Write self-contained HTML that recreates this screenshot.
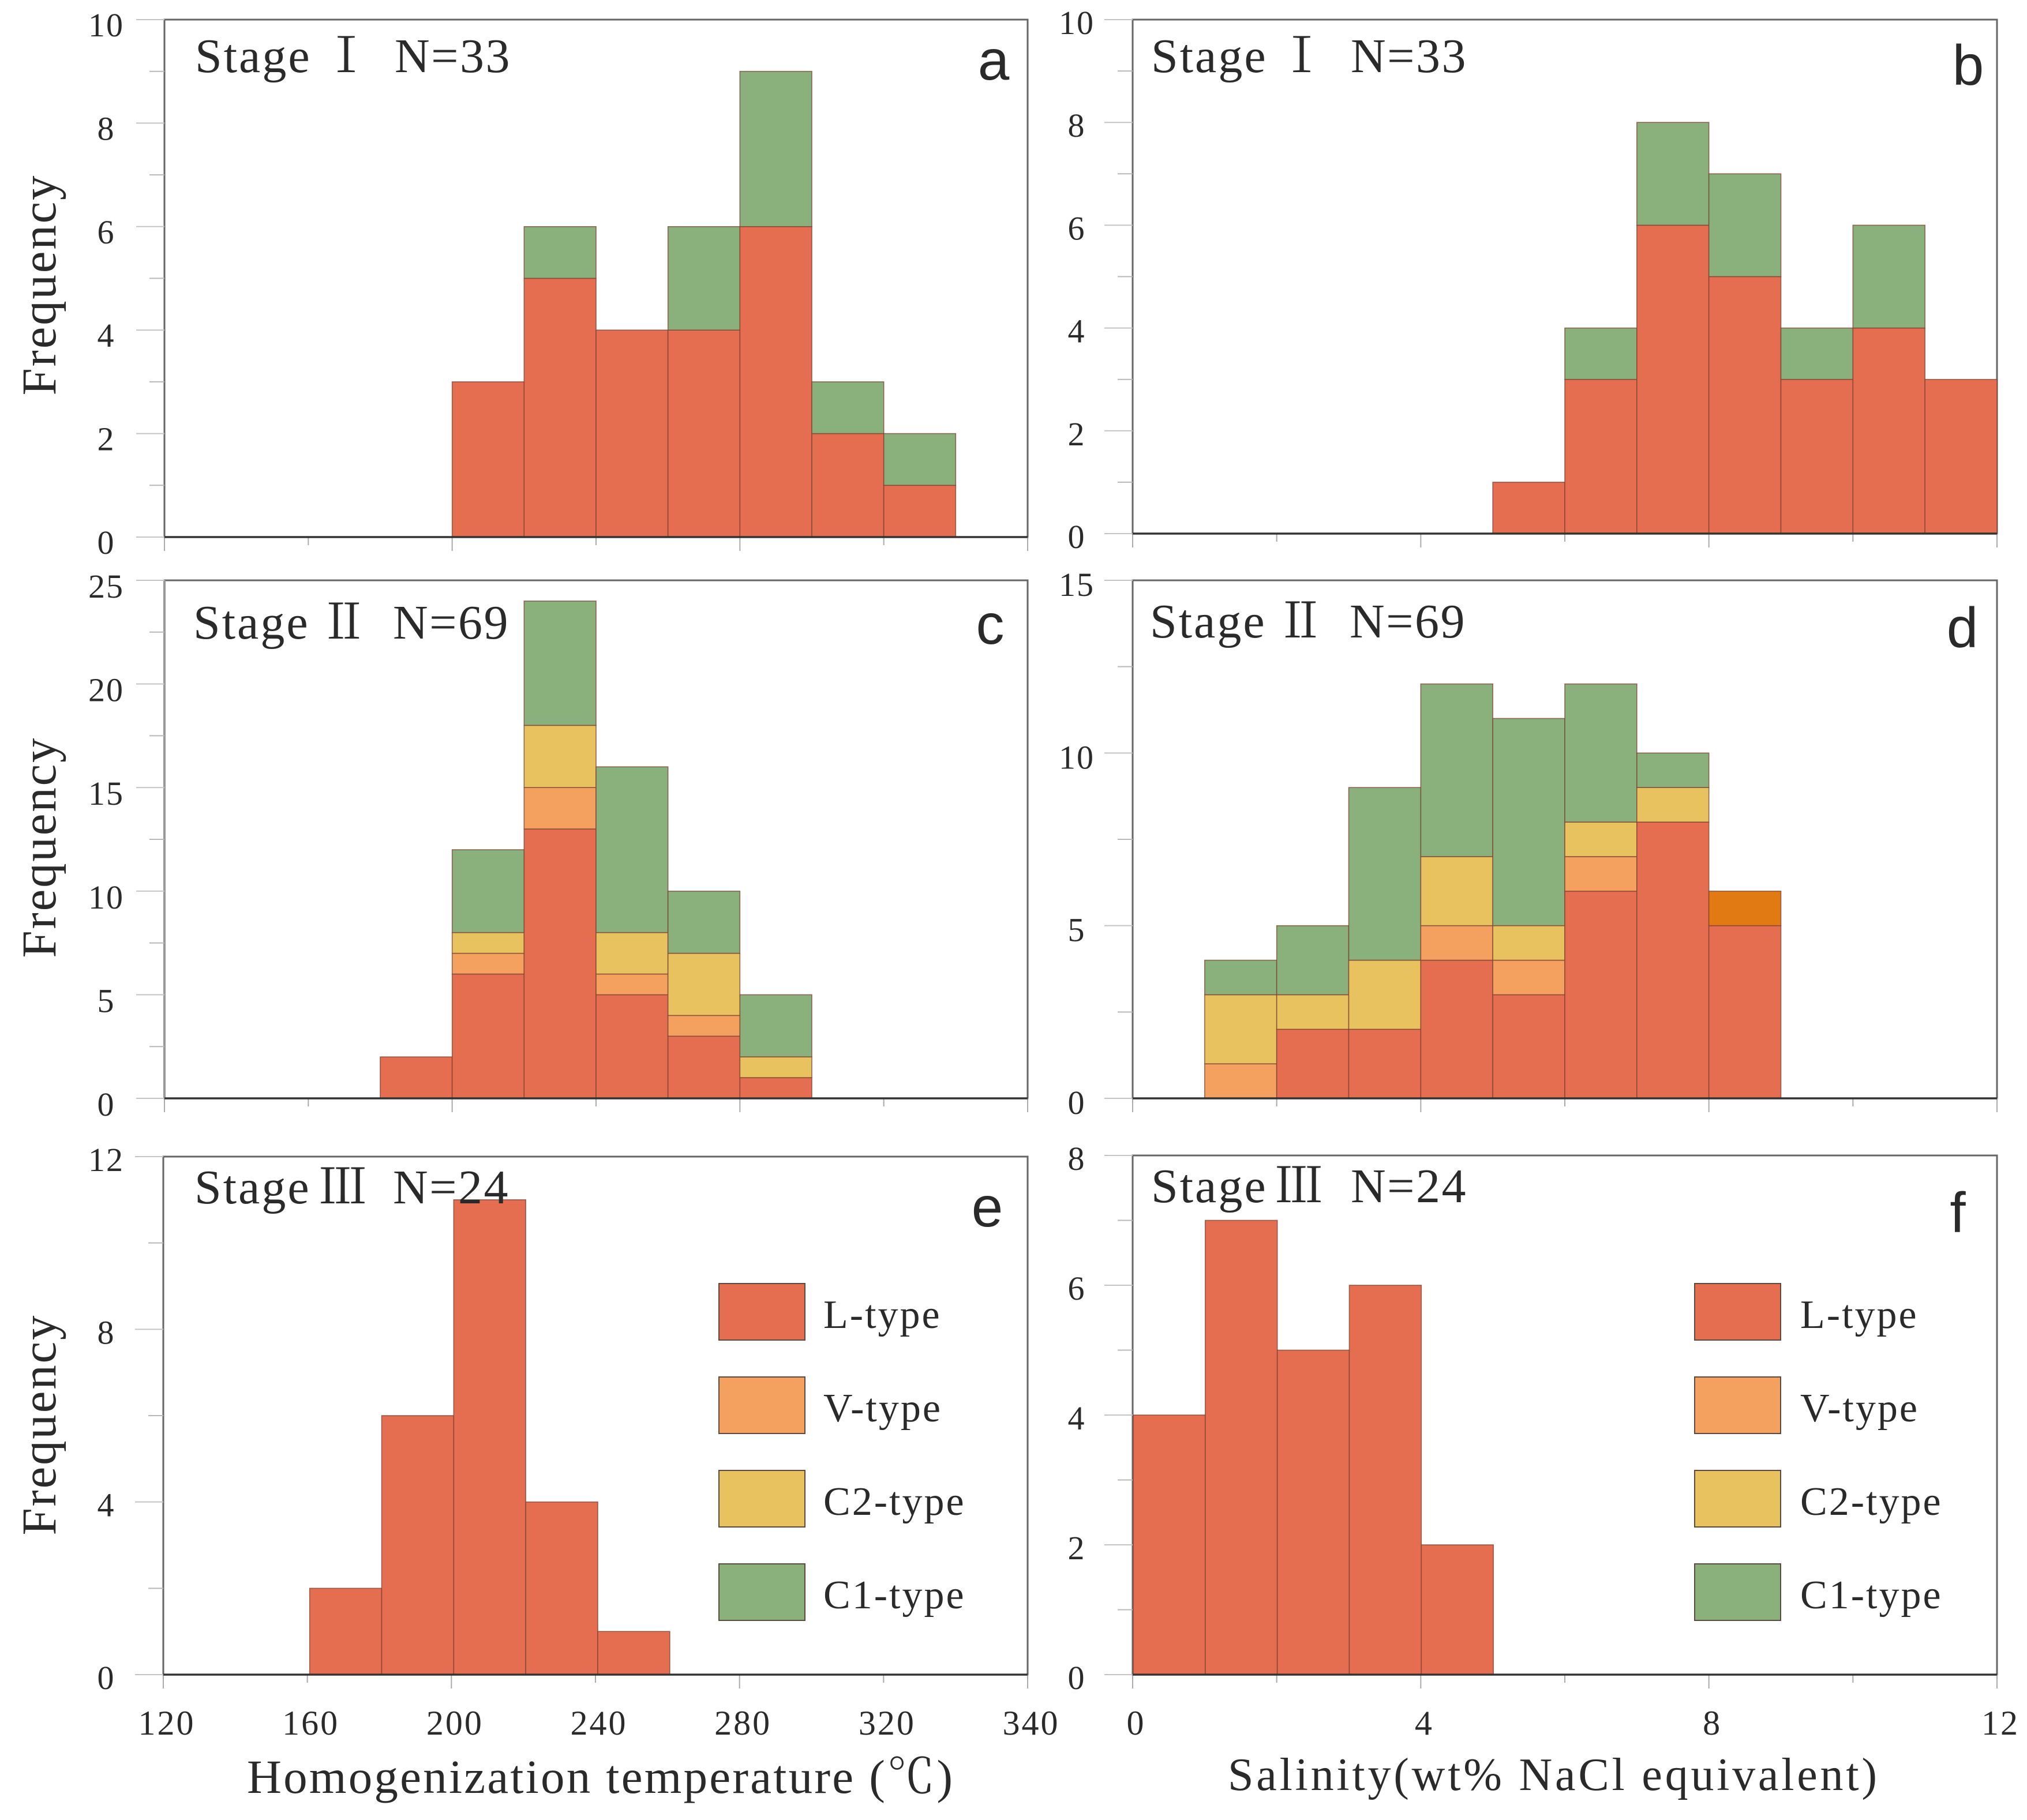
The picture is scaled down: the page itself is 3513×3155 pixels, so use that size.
<!DOCTYPE html>
<html lang="en">
<head>
<meta charset="utf-8">
<title>Fluid inclusion histograms</title>
<style>
html,body{margin:0;padding:0;background:#fff;}
svg{display:block;}
text{font-family:"Liberation Serif","Noto Serif CJK SC",serif;fill:#2a2a2a;}
</style>
</head>
<body>
<svg id="chart" xmlns="http://www.w3.org/2000/svg" width="3513" height="3155" viewBox="0 0 3513 3155"></svg>
<script>
// ---- data ----
const tempTickValues = [120,160,200,240,280,320,360];
const tempTickLabels = ['120','160','200','240','280','320','340'];
const salTickValues = [0,2,4,6,8,10,12];
const salTickLabels = ['0','','4','','8','','12'];

const aBins = [200,220,240,260,280,300,320];
const aL  = [3,5,4,4,6,2,1];
const aC1 = [0,1,0,2,3,1,1];

const bBins = [5,6,7,8,9,10,11];
const bL  = [1,3,6,5,3,4,3];
const bC1 = [0,1,2,2,1,2,0];

const cBins = [180,200,220,240,260,280];
const cL  = [2,6,13,5,3,1];
const cV  = [0,1,2,1,1,0];
const cC2 = [0,1,3,2,3,1];
const cC1 = [0,4,6,8,3,3];

const dBins = [1,2,3,4,5,6,7,8];
const dL  = [0,2,2,4,3,6,8,5];
const dV  = [1,0,0,1,1,1,0,0];
const dVDark = [0,0,0,0,0,0,0,1];
const dC2 = [2,1,2,2,1,1,1,0];
const dC1 = [1,2,5,5,6,4,1,0];

const eBins = [160,180,200,220,240];
const eL  = [2,6,11,4,1];

const fBins = [0,1,2,3,4];
const fL  = [4,7,5,6,2];

const legendLabels = ['L-type','V-type','C2-type','C1-type'];

// ---- styles ----
const COLORS = {L:'#e66e50', V:'#f4a05f', VDark:'#e27a14', C2:'#e8c25f', C1:'#8ab07c'};
const legendColors = [COLORS.L, COLORS.V, COLORS.C2, COLORS.C1];
const svg = document.getElementById('chart');

function mk(tag, attrs, parent){
  const el = document.createElementNS('http://www.w3.org/2000/svg', tag);
  for (const k in attrs) el.setAttribute(k, attrs[k]);
  (parent || svg).appendChild(el);
  return el;
}
function txt(str, attrs, name, parent){
  const el = mk('text', attrs, parent);
  el.textContent = str;
  
  
  return el;
}

function drawPanel(p){
  const g = mk('g', {});
  
  
  const xs = v => p.left + (v - p.xMin) / (p.xMax - p.xMin) * (p.right - p.left);
  const ys = v => p.bottom - v / p.yMax * (p.bottom - p.top);

  // frame
  const frame = mk('rect', {x:p.left, y:p.top, width:p.right-p.left, height:p.bottom-p.top, fill:'#fff', stroke:'#666', 'stroke-width':3}, g);
  
  
  if (p.softLeft){
    const sl = mk('line', {x1:p.left, x2:p.left, y1:p.top, y2:p.bottom, stroke:'#999', 'stroke-width':4}, g);
    
    
  }

  // y ticks
  for (let v = 0; v <= p.yMax; v += p.yMinor){
    const isMajor = v % p.yMajor === 0;
    const t = mk('line', {x1:p.left - (isMajor ? 49 : 26), x2:p.left, y1:ys(v), y2:ys(v), stroke: isMajor ? '#c4c4c4' : '#b8b8b8', 'stroke-width':2}, g);
    
    
    if (isMajor){
      txt(String(v), {x:p.yLabelX, y:ys(v)+p.labelDy, 'font-size':58, 'text-anchor':'middle', 'letter-spacing':2}, 'y-tick-label-' + p.id, g);
    }
  }
  // x ticks
  p.tickValues.forEach((v,i) => {
    const t = mk('line', {x1:xs(v), x2:xs(v), y1:p.bottom, y2:p.bottom + (i % 2 ? 14 : 24), stroke:'#aaa', 'stroke-width':2}, g);
    
    
    if (p.showX && p.tickLabels[i]){
      txt(p.tickLabels[i], {x:xs(v)+6, y:3007, 'font-size':60, 'text-anchor':'middle', 'letter-spacing':3}, 'x-tick-label-' + p.id, g);
    }
  });

  // stacked bars
  p.bins.forEach((b,i) => {
    let base = 0;
    p.series.forEach(s => {
      const val = s.values[i];
      if (!val) return;
      const r = mk('rect', {x:xs(b)+p.barShift, y:ys(base+val), width:xs(b+p.binWidth)-xs(b), height:ys(base)-ys(base+val), fill:s.color, stroke:'#7a4030', 'stroke-width':1.6, 'stroke-opacity':0.75}, g);
      
      
      base += val;
    });
  });

  // baseline
  const bl = mk('line', {x1:p.left, x2:p.right, y1:p.bottom, y2:p.bottom, stroke:'#333', 'stroke-width':3.5}, g);
  
  

  // annotations
  txt('Stage', {x:p.stageX, y:p.stageY, 'font-size':84, 'letter-spacing':3}, 'stage-label-' + p.id, g);
  txt(p.roman, {x:p.romanX, y:p.stageY, 'font-size':84, 'text-anchor':'middle'}, 'stage-numeral-' + p.id, g);
  txt('N=' + p.n, {x:p.nX, y:p.stageY, 'font-size':84, 'letter-spacing':2.5}, 'sample-count-' + p.id, g);
  const letter = txt(p.id, {x:p.letterX, y:p.letterY, 'font-size':98, 'text-anchor':'middle'}, 'panel-letter-' + p.id, g);
  letter.setAttribute('style', 'font-family:"Liberation Sans",sans-serif;');
}

const panels = [
 {id:'a', left:285, right:1781, top:34, bottom:931, xMin:120, xMax:360, yMax:10, yMajor:2, yMinor:1, yLabelX:184, labelDy:29, barShift:0, softLeft:false,
  bins:aBins, binWidth:20, tickValues:tempTickValues, tickLabels:tempTickLabels, showX:false,
  series:[{name:'l',values:aL,color:COLORS.L},{name:'c1',values:aC1,color:COLORS.C1}],
  roman:'Ⅰ', n:33, stageX:338, stageY:125, romanX:600, nX:684, letterX:1722, letterY:138},
 {id:'b', left:1963, right:3461, top:34, bottom:925, xMin:0, xMax:12, yMax:10, yMajor:2, yMinor:1, yLabelX:1866, labelDy:25, barShift:0, softLeft:false,
  bins:bBins, binWidth:1, tickValues:salTickValues, tickLabels:salTickLabels, showX:false,
  series:[{name:'l',values:bL,color:COLORS.L},{name:'c1',values:bC1,color:COLORS.C1}],
  roman:'Ⅰ', n:33, stageX:1995, stageY:125, romanX:2256, nX:2341, letterX:3411, letterY:147},
 {id:'c', left:285, right:1781, top:1006, bottom:1904, xMin:120, xMax:360, yMax:25, yMajor:5, yMinor:2.5, yLabelX:184, labelDy:30, barShift:0, softLeft:true,
  bins:cBins, binWidth:20, tickValues:tempTickValues, tickLabels:tempTickLabels, showX:false,
  series:[{name:'l',values:cL,color:COLORS.L},{name:'v',values:cV,color:COLORS.V},{name:'c2',values:cC2,color:COLORS.C2},{name:'c1',values:cC1,color:COLORS.C1}],
  roman:'Ⅱ', n:69, stageX:335, stageY:1107, romanX:596, nX:681, letterX:1716, letterY:1116},
 {id:'d', left:1963, right:3461, top:1006, bottom:1904, xMin:0, xMax:12, yMax:15, yMajor:5, yMinor:2.5, yLabelX:1866, labelDy:27, barShift:0, softLeft:false,
  bins:dBins, binWidth:1, tickValues:salTickValues, tickLabels:salTickLabels, showX:false,
  series:[{name:'l',values:dL,color:COLORS.L},{name:'v',values:dV,color:COLORS.V},{name:'v-dark',values:dVDark,color:COLORS.VDark},{name:'c2',values:dC2,color:COLORS.C2},{name:'c1',values:dC1,color:COLORS.C1}],
  roman:'Ⅱ', n:69, stageX:1993, stageY:1105, romanX:2254, nX:2339, letterX:3401, letterY:1122},
 {id:'e', left:283, right:1781, top:2005, bottom:2903, xMin:120, xMax:360, yMax:12, yMajor:4, yMinor:2, yLabelX:184, labelDy:25, barShift:4, softLeft:false,
  bins:eBins, binWidth:20, tickValues:tempTickValues, tickLabels:tempTickLabels, showX:true,
  series:[{name:'l',values:eL,color:COLORS.L}],
  roman:'Ⅲ', n:24, stageX:337, stageY:2086, romanX:594, nX:681, letterX:1711, letterY:2126},
 {id:'f', left:1963, right:3461, top:2003, bottom:2903, xMin:0, xMax:12, yMax:8, yMajor:2, yMinor:1, yLabelX:1866, labelDy:25, barShift:1, softLeft:false,
  bins:fBins, binWidth:1, tickValues:salTickValues, tickLabels:salTickLabels, showX:true,
  series:[{name:'l',values:fL,color:COLORS.L}],
  roman:'Ⅲ', n:24, stageX:1995, stageY:2084, romanX:2251, nX:2341, letterX:3393, letterY:2136}
];
panels.forEach(drawPanel);

// y axis titles
[495,1470,2471].forEach((cy,i) => {
  const t = txt('Frequency', {x:0, y:0, transform:'translate(96,'+cy+') rotate(-90)', 'font-size':85, 'text-anchor':'middle', textLength:381, lengthAdjust:'spacing'}, 'y-axis-title', svg);
  t.setAttribute('data-row', i);
});
// x axis titles
txt('Homogenization temperature (℃)', {x:428, y:3108, 'font-size':83, textLength:1223, lengthAdjust:'spacing'}, 'x-axis-title-temperature');
txt('Salinity(wt% NaCl equivalent)', {x:2128, y:3103, 'font-size':80, textLength:1125, lengthAdjust:'spacing'}, 'x-axis-title-salinity');

// legends
[{id:'e', sx:1246, tx:1427},{id:'f', sx:2937, tx:3120}].forEach(lg => {
  const g = mk('g', {});
  
  
  legendLabels.forEach((lab,i) => {
    const top = 2225 + i * 162;
    const r = mk('rect', {x:lg.sx, y:top, width:149, height:98, fill:legendColors[i], stroke:'#5a4a40', 'stroke-width':2}, g);
    
    
    txt(lab, {x:lg.tx, y:top + 77, 'font-size':70, 'letter-spacing':3}, 'legend-label-' + lab.toLowerCase(), g);
  });
});
</script>
</body>
</html>
